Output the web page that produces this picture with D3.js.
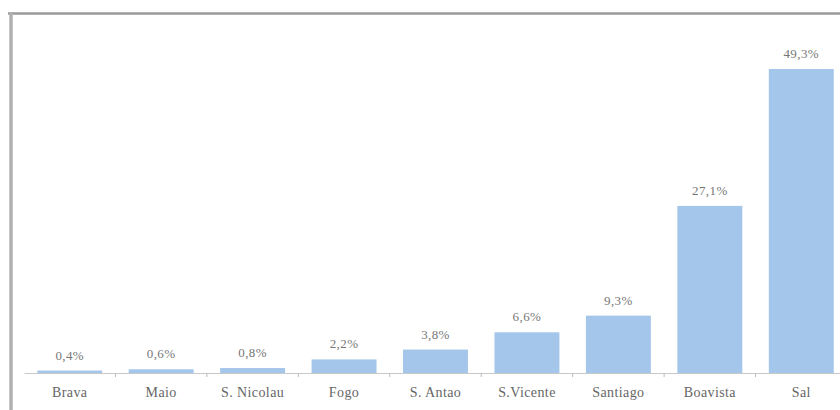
<!DOCTYPE html>
<html><head><meta charset="utf-8">
<script src="https://cdn.jsdelivr.net/npm/d3@7/dist/d3.min.js"></script>
<style>body{margin:0;background:#fff;}svg{display:block;}
text{font-family:"Liberation Serif","Times New Roman","DejaVu Serif",serif;}</style>
</head><body>
<svg id="chart" width="840" height="410"></svg>
<script>
const categories = ["Brava","Maio","S. Nicolau","Fogo","S. Antao","S.Vicente","Santiago","Boavista","Sal"];
const values = [0.4,0.6,0.8,2.2,3.8,6.6,9.3,27.1,49.3];
const valueLabels = ["0,4%","0,6%","0,8%","2,2%","3,8%","6,6%","9,3%","27,1%","49,3%"];

const serif = '"Liberation Serif","Times New Roman","DejaVu Serif",serif';
const svg = d3.select("#chart");
const x = d3.scaleBand().domain(categories).range([24, 847]).paddingInner(0.29).paddingOuter(0.145);
const y = d3.scaleLinear().domain([0, 49.3]).range([373, 69]);

// frame
svg.append("line").attr("x1",8).attr("x2",840).attr("y1",13.5).attr("y2",13.5)
  .attr("stroke","#9a9a9a").attr("stroke-width",2.5);
svg.append("line").attr("x1",11).attr("x2",11).attr("y1",12).attr("y2",410)
  .attr("stroke","#b0b0b0").attr("stroke-width",3.5);

// bars
svg.selectAll("rect.bar").data(values).join("rect").attr("class","bar")
  .attr("x",(d,i)=>x(categories[i])).attr("width",x.bandwidth())
  .attr("y",d=>y(d)).attr("height",d=>Math.max(2, y(0)-y(d)))
  .attr("fill","#a3c6ea");

// axis
const axis = d3.axisBottom(x).tickSize(0).tickPadding(14);
const g = svg.append("g").attr("transform","translate(0,373)").call(axis);
g.attr("font-family", null);
g.select(".domain").attr("stroke","#c8c8c8").attr("stroke-width",1);
g.selectAll("text").style("font-family",serif).style("font-size","14px")
  .style("letter-spacing","0.4px").attr("fill","#666");
// boundary ticks
const bounds = categories.map(c => x(c) - x.step()*x.paddingInner()/2).slice(1);
svg.selectAll("line.btick").data(bounds).join("line").attr("class","btick")
  .attr("x1",d=>d).attr("x2",d=>d).attr("y1",373).attr("y2",377)
  .attr("stroke","#bbb").attr("stroke-width",1);

// value labels
svg.selectAll("text.val").data(values).join("text").attr("class","val")
  .attr("x",(d,i)=>x(categories[i])+x.bandwidth()/2)
  .attr("y",d=>y(d)-11)
  .attr("text-anchor","middle")
  .style("font-family",serif).style("font-size","13px").style("letter-spacing","0.4px")
  .attr("fill","#777")
  .text((d,i)=>valueLabels[i]);
</script>
</body></html>
